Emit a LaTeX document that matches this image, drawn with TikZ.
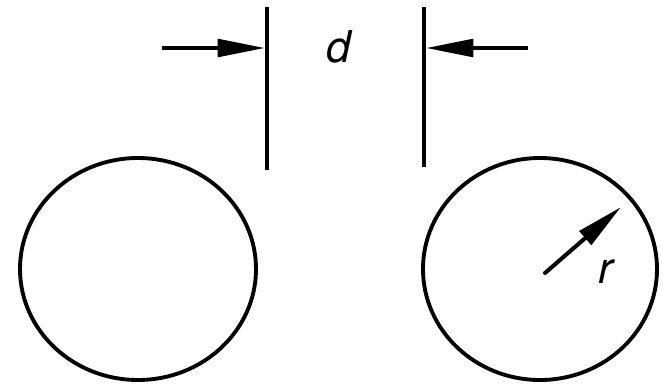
\documentclass[tikz,border=0pt]{standalone}
\usepackage{fontspec}
\setmainfont{TeX Gyre Heros}
\usetikzlibrary{arrows.meta}
\begin{document}
\begin{tikzpicture}[x=0.02cm,y=-0.02cm,
  rim/.style={line width=2.2pt},
  wall/.style={line width=2.7pt},
  dimarrow/.style={line width=2.3pt,-{Triangle[length=27pt,width=10pt]}},
  lbl/.style={font=\fontsize{25}{30}\selectfont\itshape}]
  \useasboundingbox (0,0) rectangle (663,390);
  % the two cylinders
  \coordinate (lc) at (138,269);
  \coordinate (rc) at (540,269);
  \draw[rim] (lc) ellipse [x radius=118, y radius=111];
  \draw[rim] (rc) ellipse [x radius=117, y radius=111];
  % gap d
  \coordinate (lt) at (267,7);   \coordinate (lb) at (267,170);
  \coordinate (rt) at (424,7);   \coordinate (rb) at (424,167);
  \draw[wall] (lt) -- (lb);
  \draw[wall] (rt) -- (rb);
  \coordinate (la) at (162,48);  \coordinate (lh) at (265,48);
  \coordinate (ra) at (528,48);  \coordinate (rh) at (426,48);
  \draw[dimarrow] (la) -- (lh);
  \draw[dimarrow] (ra) -- (rh);
  \node[lbl] (d) at (339,47) {d};
  % radius r
  \coordinate (c) at (545,273);
  \coordinate (rim) at (621,207);
  \draw[dimarrow,line cap=round] (c) -- (rim);
  \node[lbl] (r) at (606,272) {r};
\end{tikzpicture}
\end{document}
